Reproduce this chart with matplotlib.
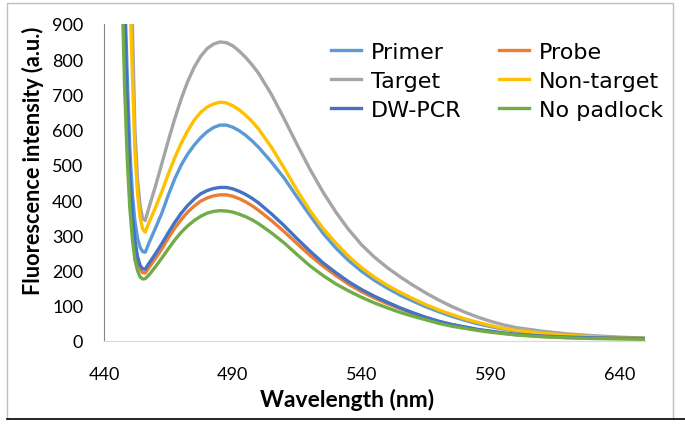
import matplotlib
matplotlib.use('Agg')
import matplotlib.pyplot as plt
from matplotlib.lines import Line2D

# wavelength grid (nm)
wavelength = [446, 447, 448, 449, 450, 451, 452, 453, 454, 455, 456, 457.5,
              460, 462.5, 465, 467.5, 470, 472.5, 475, 477.5, 480, 482.5,
              485, 487.5, 490, 492.5, 495, 497.5, 500, 505, 510, 515, 520,
              525, 530, 535, 540, 545, 550, 555, 560, 565, 570, 575, 580,
              585, 590, 595, 600, 610, 620, 630, 640, 650]

primer = [1700, 1300, 1000, 760, 550, 420, 340, 292, 266, 254, 252, 279,
          321, 364, 415, 461, 500, 531, 556, 577, 594, 606,
          613, 613, 607, 597, 584, 568, 550, 508, 462, 408, 356,
          306, 264, 228, 198, 172, 150, 130, 113, 97, 83, 70, 59,
          49, 41, 34, 28, 21, 15, 11, 9, 7]
probe = [1550, 1150, 900, 650, 460, 345, 272, 228, 204, 194, 193, 209,
         235, 262, 293, 321, 345, 366, 383, 397, 406, 412,
         415, 415, 411, 404, 395, 384, 371, 342, 310, 276, 243,
         213, 186, 161, 140, 122, 106, 92, 78, 66, 55, 46, 39,
         32, 27, 22, 18, 13, 10, 8, 7, 6]
target = [2200, 1900, 1700, 1500, 1150, 900, 600, 460, 385, 348, 342, 380,
          440, 505, 570, 632, 688, 737, 777, 808, 830, 843,
          849, 847, 838, 823, 805, 784, 760, 700, 630, 557, 487,
          423, 366, 316, 273, 238, 208, 182, 158, 136, 116, 98, 82,
          68, 56, 46, 38, 28, 20, 15, 11, 8]
non_target = [1900, 1600, 1450, 1300, 1000, 760, 540, 420, 352, 318, 309, 337,
              379, 425, 475, 521, 562, 597, 627, 649, 664, 673,
              678, 676, 668, 656, 641, 623, 602, 550, 490, 427, 370,
              320, 278, 240, 208, 181, 158, 138, 120, 103, 88, 75, 63,
              53, 44, 36, 30, 22, 16, 12, 9, 7]
dw_pcr = [1600, 1200, 950, 680, 480, 360, 285, 240, 215, 205, 204, 221,
          248, 277, 308, 337, 363, 385, 403, 418, 427, 433,
          436, 436, 432, 425, 416, 405, 392, 361, 327, 290, 255,
          222, 194, 168, 146, 127, 110, 94, 80, 67, 56, 47, 40,
          33, 28, 23, 19, 14, 11, 9, 8, 7]
no_padlock = [1400, 1000, 720, 520, 380, 290, 230, 200, 182, 176, 177, 188,
              211, 236, 262, 287, 309, 327, 342, 354, 363, 368,
              370, 369, 366, 360, 353, 344, 333, 307, 278, 245, 213,
              186, 162, 142, 124, 108, 94, 81, 70, 60, 50, 42, 36,
              30, 25, 21, 17, 12, 9, 7, 6, 5]

labels = ['Primer', 'Probe', 'Target', 'Non-target', 'DW-PCR', 'No padlock']
colors = ['#5B9BD5', '#ED7D31', '#A5A5A5', '#FFC000', '#4472C4', '#70AD47']
series = [primer, probe, target, non_target, dw_pcr, no_padlock]

fig = plt.figure(figsize=(6.85, 4.31), dpi=100)
ax = fig.add_axes([104 / 685, 1 - 342 / 431, (645 - 104) / 685, (342 - 25) / 431])

for y, c, lab in zip(series, colors, labels):
    ax.plot(wavelength, y, color=c, lw=2.4, label=lab)

ax.set_xlim(440, 650)
ax.set_ylim(0, 900)
ax.set_xticks([440, 490, 540, 590, 640])
ax.set_yticks(range(0, 901, 100))
ax.tick_params(length=0, labelsize=13)
ax.tick_params(axis='y', pad=15)
ax.tick_params(axis='x', pad=18)
for t in ax.get_xticklabels() + ax.get_yticklabels():
    t.set_family('Lato')

for s in ['top', 'right']:
    ax.spines[s].set_visible(False)
ax.spines['left'].set_color('#868686')
ax.spines['bottom'].set_color('#D9D9D9')

# legend, two columns filled row by row
handles = [Line2D([], [], color=c, lw=2.4) for c in colors]
order = [0, 2, 4, 1, 3, 5]
ax.legend([handles[i] for i in order], [labels[i] for i in order],
          ncol=2, loc='upper left', bbox_to_anchor=(0.399, 0.978),
          frameon=False, borderpad=0, handlelength=1.35, handletextpad=0.45,
          columnspacing=1.7, labelspacing=0.4,
          prop={'family': 'DejaVu Sans', 'size': 16})

fig.text(347 / 685, 1 - 400 / 431, 'Wavelength (nm)', ha='center', va='center',
         fontsize=16.5, fontweight='bold', family='Lato')
fig.text(33 / 685, 1 - 161 / 431, 'Fluorescence intensity (a.u.)', ha='center',
         va='center', rotation=90, fontsize=15.6, fontweight='bold', family='Lato')

# chart border
fig.add_artist(Line2D([7 / 685, 7 / 685, 673 / 685, 673 / 685],
                      [1 - 420 / 431, 1 - 4 / 431, 1 - 4 / 431, 1 - 420 / 431],
                      color='#BFBFBF', lw=1, transform=fig.transFigure))
fig.add_artist(Line2D([7 / 685, 1], [1 - 420 / 431, 1 - 420 / 431],
                      color='black', lw=1.2, transform=fig.transFigure))

fig.savefig('out.png', dpi=100)
